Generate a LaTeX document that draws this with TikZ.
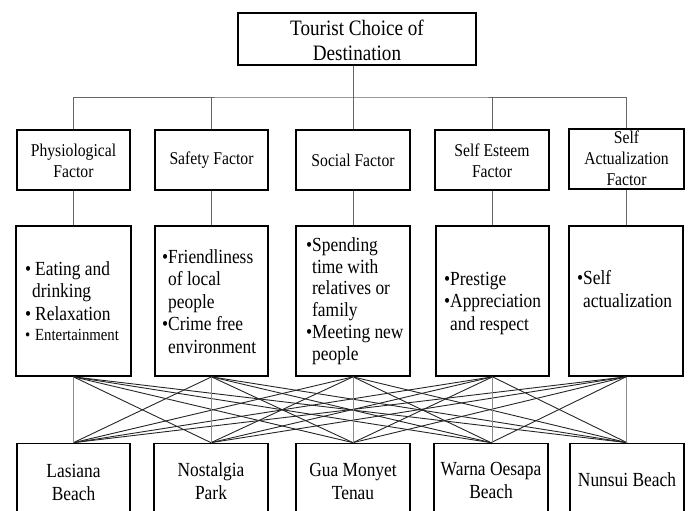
\documentclass[tikz,border=0pt]{standalone}
\usepackage{fontspec}
\setmainfont{Liberation Serif}[FakeStretch=0.87]
\newcommand{\bul}[1]{\makebox[#1][l]{\textbullet}}
\begin{document}
\begin{tikzpicture}[x=1pt,y=-1pt,
  box/.style={draw, line width=1.7pt, inner sep=0pt, rectangle},
  tree/.style={draw=black!60, line width=1pt},
  cross/.style={draw=black!85, line width=0.9pt},
  crossv/.style={draw=black!45, line width=0.9pt},
  toptxt/.style={inner sep=0pt, align=center, font=\fontsize{22}{25}\selectfont},
  factxt/.style={inner sep=0pt, align=center, font=\fontsize{18}{21}\selectfont},
  midtxt/.style={inner sep=0pt, align=left, anchor=base west, font=\fontsize{20}{22.5}\selectfont},
  desttxt/.style={inner sep=0pt, align=center, font=\fontsize{20}{23}\selectfont}]
\clip (0,0) rectangle (688,511);
% top
\node[box, minimum width=238, minimum height=52] (top) at (357,39) {};
\node[toptxt] (toptext) at (357,40) {Tourist Choice of\\Destination};
% factor boxes
\node[box, minimum width=113, minimum height=60] (pf) at (73.5,160) {};
\node[box, minimum width=113, minimum height=60] (sf) at (211.5,160) {};
\node[box, minimum width=114, minimum height=60] (cf) at (353,160) {};
\node[box, minimum width=114, minimum height=60] (ef) at (492,160) {};
\node[box, minimum width=115, minimum height=60] (af) at (626.5,159) {};
\node[factxt] (pft) at (73.5,161) {Physiological\\Factor};
\node[factxt] (sft) at (211.5,160) {Safety Factor};
\node[factxt] (cft) at (353,160) {Social Factor};
\node[factxt] (eft) at (492,161) {Self Esteem\\Factor};
\node[factxt] (aft) at (626.5,158) {Self\\Actualization\\Factor};
% middle boxes
\node[box, minimum width=115, minimum height=150] (pm) at (73.5,301) {};
\node[box, minimum width=113, minimum height=150] (sm) at (211.5,301) {};
\node[box, minimum width=114, minimum height=150] (cm) at (353,301) {};
\node[box, minimum width=113, minimum height=150] (em) at (492.5,301) {};
\node[box, minimum width=114, minimum height=150] (am) at (626,301) {};
\node[midtxt] (pmt) at (25,340) {\bul{10pt}Eating and\\\hspace*{7pt}drinking\\\bul{10pt}Relaxation\\[-2.5pt]{\fontsize{17}{20}\selectfont\bul{10pt}Entertainment}};
\node[midtxt] (smt) at (162,353) {\bul{6pt}Friendliness\\\hspace*{6pt}of local\\\hspace*{6pt}people\\\bul{6pt}Crime free\\\hspace*{6pt}environment};
\node[midtxt, font=\fontsize{20}{21.7}\selectfont] (cmt) at (306,360) {\bul{6pt}Spending\\\hspace*{6pt}time with\\\hspace*{6pt}relatives or\\\hspace*{6pt}family\\\bul{6pt}Meeting new\\\hspace*{6pt}people};
\node[midtxt] (emt) at (444,330) {\bul{6pt}Prestige\\\bul{6pt}Appreciation\\\hspace*{6pt}and respect};
\node[midtxt] (amt) at (577,307) {\bul{6pt}Self\\\hspace*{6pt}actualization};
% destination boxes
\node[box, minimum width=113, minimum height=76] (ld) at (73.5,481.5) {};
\node[box, minimum width=114, minimum height=76] (nd) at (211,481.5) {};
\node[box, minimum width=114, minimum height=76] (gd) at (353,481.5) {};
\node[box, minimum width=114, minimum height=76] (wd) at (491,481.5) {};
\node[box, minimum width=114, minimum height=76] (ud) at (627,481.5) {};
\node[desttxt] (ldt) at (73.5,482) {Lasiana\\Beach};
\node[desttxt] (ndt) at (211,481) {Nostalgia\\Park};
\node[desttxt] (gdt) at (353,481) {Gua Monyet\\Tenau};
\node[desttxt] (wdt) at (491,480) {Warna Oesapa\\Beach};
\node[desttxt] (udt) at (627,480) {Nunsui Beach};
% tree connectors
\coordinate (bus) at (353,97);
\draw[tree] (top.south -| cf.north) -- (cf.north);
\draw[tree] (pf.north) |- (bus) -| (af.north);
\draw[tree] (sf.north) -- (sf.north |- bus);
\draw[tree] (ef.north) -- (ef.north |- bus);
\draw[tree] (pf.south) -- (pf.south |- pm.north);
\draw[tree] (sf.south) -- (sf.south |- sm.north);
\draw[tree] (cf.south) -- (cf.south |- cm.north);
\draw[tree] (ef.south) -- (ef.south |- em.north);
\draw[tree] (af.south) -- (af.south |- am.north);
% cross connectors
\foreach \m/\d in {pm/nd,pm/gd,pm/wd,pm/ud,
                   sm/ld,sm/gd,sm/wd,sm/ud,
                   cm/ld,cm/nd,cm/wd,cm/ud,
                   em/ld,em/nd,em/gd,em/ud,
                   am/ld,am/nd,am/gd,am/wd}
  \draw[cross] (\m.south) -- (\d.north);
\foreach \m/\d in {pm/ld,sm/nd,cm/gd,em/wd,am/ud}
  \draw[crossv] (\m.south) -- (\m.south |- \d.north);
\end{tikzpicture}
\end{document}
